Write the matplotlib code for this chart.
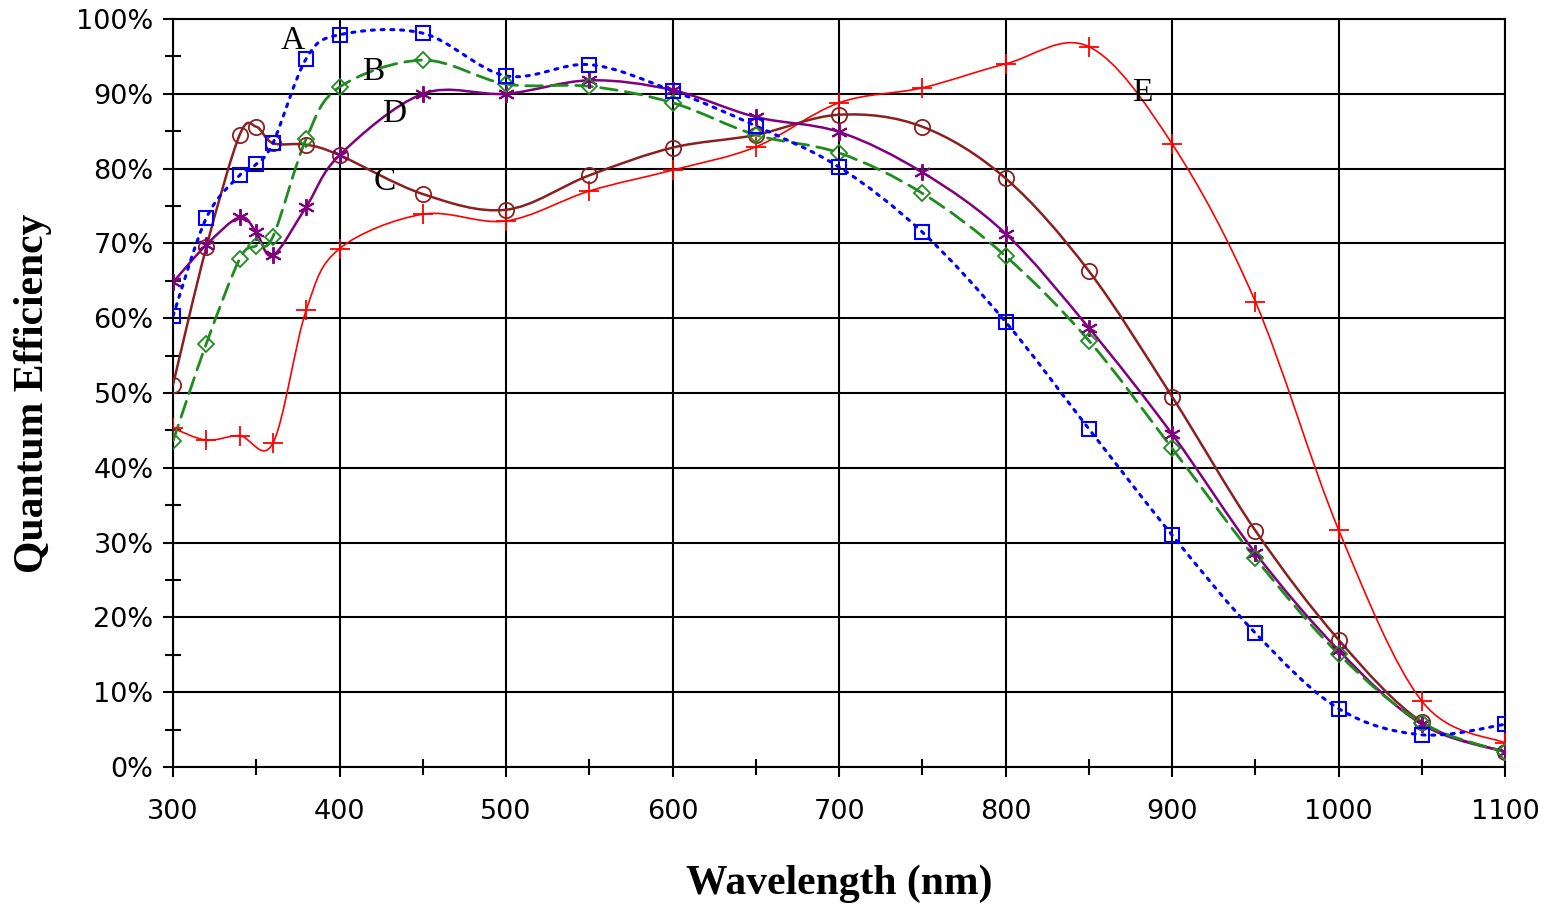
import numpy as np
import matplotlib.pyplot as plt
from matplotlib.path import Path
from matplotlib.patches import PathPatch
from matplotlib.ticker import MultipleLocator, FuncFormatter

# wavelengths (nm)
wl = [300, 320, 340, 350, 360, 380, 400, 450, 500, 550, 600, 650,
      700, 750, 800, 850, 900, 950, 1000, 1050, 1100]

# quantum efficiency (%)
qe_a = [60.3, 73.4, 79.1, 80.6, 83.4, 94.7, 97.9, 98.1, 92.4, 93.9, 90.4, 85.7,
        80.2, 71.5, 59.5, 45.2, 31.0, 17.9, 7.8, 4.3, 5.7]
qe_b = [43.6, 56.6, 67.9, 69.7, 70.9, 84.0, 90.9, 94.5, 91.3, 91.0, 88.8, 84.5,
        82.1, 76.7, 68.3, 57.0, 42.6, 27.9, 15.1, 5.9, 2.0]
qe_c = [51.1, 69.5, 84.5, 85.6, 83.4, 83.2, 81.8, 76.6, 74.5, 79.1, 82.8, 84.5,
        87.2, 85.6, 78.7, 66.3, 49.5, 31.6, 17.0, 6.0, 2.0]
qe_d = [64.8, 69.8, 73.5, 71.5, 68.4, 74.9, 81.8, 90.0, 90.0, 91.8, 90.5, 86.9,
        84.9, 79.5, 71.3, 58.7, 44.5, 28.6, 15.6, 5.7, 2.0]
qe_e = [45.3, 43.7, 44.3, None, 43.3, 61.1, 69.3, 73.9, 73.0, 77.0, 79.8, 82.9,
        88.8, 90.8, 94.0, 96.3, 83.3, 62.2, 31.7, 8.8, 3.2]

curve_labels = ["A", "B", "C", "D", "E"]
label_x = [372, 420, 427, 433, 882]
label_y = [97.1, 93.0, 78.3, 87.4, 90.2]


def smooth_path(xs, ys):
    # Excel style smoothed line: cubic bezier through the points
    pts = np.array([(x, y) for x, y in zip(xs, ys) if y is not None], float)
    verts = [pts[0]]
    codes = [Path.MOVETO]
    n = len(pts)
    for i in range(n - 1):
        p0 = pts[max(i - 1, 0)]
        p1 = pts[i]
        p2 = pts[i + 1]
        p3 = pts[min(i + 2, n - 1)]
        verts += [p1 + (p2 - p0) / 6, p2 - (p3 - p1) / 6, p2]
        codes += [Path.CURVE4] * 3
    return Path(verts, codes)


fig = plt.figure(figsize=(15.49, 9.05), dpi=100)
ax = fig.add_axes([0.1117, 0.1525, 0.86, 0.8265])

series = [
    (qe_e, "#ff0000", "-", 1.2, "+", 14, 1.3),
    (qe_c, "#8b2020", "-", 1.8, "o", 11, 1.3),
    (qe_d, "#800080", "-", 1.8, (6, 2, 0), 12, 1.4),
    (qe_b, "#1e8c1e", (0, (6, 3)), 2.0, "D", 8, 1.3),
    (qe_a, "#0000ff", (0, (1, 2.2)), 2.2, "s", 9.5, 1.5),
]

for ys, col, ls, lw, mk, ms, mew in series:
    patch = PathPatch(smooth_path(wl, ys), fill=False, edgecolor=col,
                      linestyle=ls, linewidth=lw, capstyle="round", zorder=3)
    ax.add_patch(patch)
    xs = [x for x, y in zip(wl, ys) if y is not None]
    yv = [y for y in ys if y is not None]
    ax.plot(xs, yv, linestyle="none", marker=mk, markersize=ms,
            markerfacecolor="none", markeredgecolor=col, markeredgewidth=mew,
            zorder=4)

for t, x, y in zip(curve_labels, label_x, label_y):
    ax.text(x, y, t, fontsize=24, family="Liberation Serif",
            ha="center", va="center", zorder=5)

ax.set_xlim(300, 1100)
ax.set_ylim(0, 100)
ax.xaxis.set_major_locator(MultipleLocator(100))
ax.xaxis.set_minor_locator(MultipleLocator(50))
ax.yaxis.set_major_locator(MultipleLocator(10))
ax.yaxis.set_minor_locator(MultipleLocator(5))
ax.yaxis.set_major_formatter(FuncFormatter(lambda v, p: f"{v:.0f}%"))

ax.grid(which="major", color="black", linewidth=1.5)
ax.set_axisbelow(True)
for s in ax.spines.values():
    s.set_linewidth(1.5)

ax.tick_params(which="major", direction="out", length=7, width=1.5,
               labelsize=19.5, top=False, right=False)
ax.tick_params(axis="x", which="major", pad=16)
ax.tick_params(axis="y", which="major", pad=7)
ax.tick_params(which="minor", direction="inout", length=12, width=1.5,
               top=False, right=False)

ax.set_xlabel("Wavelength (nm)", fontsize=30, fontweight="bold",
              family="Liberation Serif")
ax.set_ylabel("Quantum Efficiency", fontsize=30, fontweight="bold",
              family="Liberation Serif")
ax.xaxis.set_label_coords(0.5, -0.131, transform=ax.transAxes)
ax.yaxis.set_label_coords(-0.091, 0.5, transform=ax.transAxes)
ax.xaxis.label.set_va("top")

fig.savefig("out.png", dpi=100)
